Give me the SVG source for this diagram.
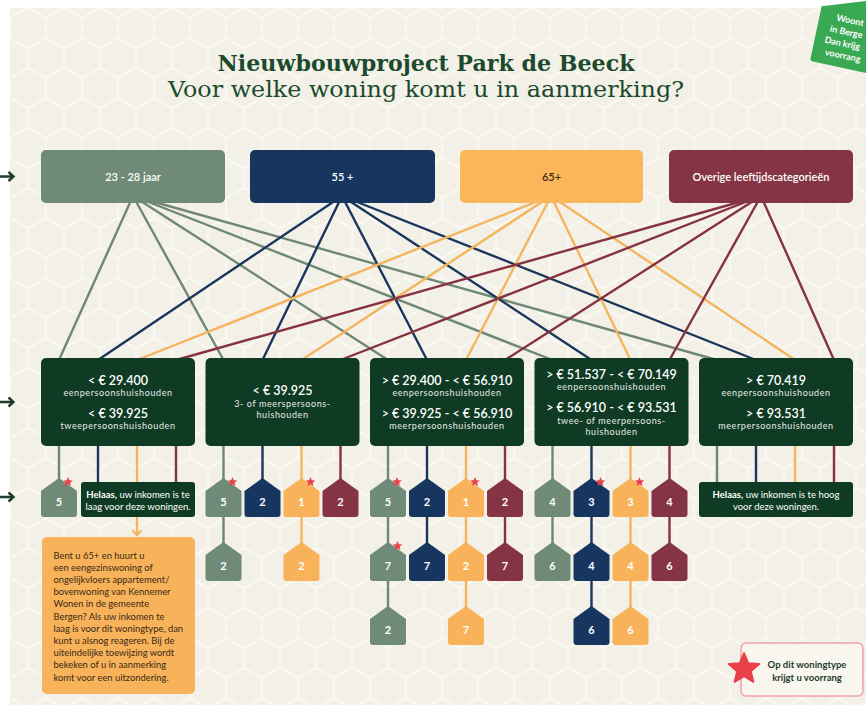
<svg xmlns="http://www.w3.org/2000/svg" xmlns:xlink="http://www.w3.org/1999/xlink" width="866" height="705" viewBox="0 0 866 705">
<style>
.title{font-family:"DejaVu Serif","Liberation Serif",serif;fill:#1b4a2c}
.cat{font-family:Lato,"Noto Sans",sans-serif;font-size:11px;font-weight:600;fill:#ffffff;text-anchor:middle}
.amt{font-family:Lato,"Noto Sans",sans-serif;font-size:12.5px;font-weight:600;fill:#ffffff;text-anchor:middle}
.sub{font-family:Lato,"Noto Sans",sans-serif;font-size:9px;letter-spacing:0.6px;fill:#e6ece6;text-anchor:middle}
.num{font-family:Lato,"Noto Sans",sans-serif;font-size:11px;font-weight:bold;fill:#ffffff;text-anchor:middle}
.hel{font-family:Lato,"Noto Sans",sans-serif;font-size:9.5px;fill:#ffffff;text-anchor:middle}
.note{font-family:Lato,"Noto Sans",sans-serif;font-size:9.4px;fill:#3a2a18}
.leg{font-family:Lato,"Noto Sans",sans-serif;font-size:9.5px;font-weight:bold;fill:#1e3b2b;text-anchor:middle}
.tag{font-family:Lato,"Noto Sans",sans-serif;font-size:9px;font-weight:bold;fill:#ffffff}
.cg{stroke:#6f8773}
.cn{stroke:#1b365d}
.co{stroke:#f5b45e}
.cm{stroke:#86323f}
#connectors path{fill:none;stroke-width:2.4}
.g{fill:#6f8a76}.n{fill:#17365f}.o{fill:#f8b35a}.m{fill:#843442}
.ibox{fill:#0f3b25}
.star{fill:#e8414a}
</style>
<defs>
<pattern id="hex" width="36" height="60" patternUnits="userSpaceOnUse" x="10" y="8">
<path d="M0,10 L18,0 L36,10 M36,10 V30 M0,10 V30 M0,30 L18,40 L36,30 M18,40 V60" fill="none" stroke="#faf9f4" stroke-width="1.6"/>
</pattern>
<path id="house" d="M0,0 L18,13 V36 Q18,39 15,39 H-15 Q-18,39 -18,36 V13 Z"/>
<path id="star" d="M0,-1 L0.2645,-0.364 L0.951,-0.309 L0.428,0.139 L0.588,0.809 L0,0.45 L-0.588,0.809 L-0.428,0.139 L-0.951,-0.309 L-0.2645,-0.364 Z"/>
</defs>

<rect x="0" y="0" width="866" height="705" fill="#ffffff"/>
<rect x="10" y="8" width="856" height="697" fill="#f3f1e7"/>
<rect x="10" y="8" width="856" height="697" fill="url(#hex)"/>

<g id="tag" transform="translate(810,61) rotate(12)">
<path d="M0,-3 Q0,0 3,0 H95 V-56 L47,-72 L0,-56 Z" fill="#3aa954"/>
<text class="tag" x="17" y="-45">Woont</text>
<text class="tag" x="13" y="-33">in Berge</text>
<text class="tag" x="10" y="-21">Dan krijg</text>
<text class="tag" x="13" y="-9">voorrang</text>
</g>

<g id="title">
<text class="title" x="426" y="71" font-size="22" font-weight="bold" text-anchor="middle" textLength="417" lengthAdjust="spacingAndGlyphs">Nieuwbouwproject Park de Beeck</text>
<text class="title" x="426" y="97" font-size="23" text-anchor="middle" textLength="516" lengthAdjust="spacingAndGlyphs">Voor welke woning komt u in aanmerking?</text>
</g>

<g id="connectors">
<path d="M0,176.5 H13 M8.5,172 L13.5,176.5 L8.5,181" stroke="#1d3d2a"/>
<path d="M0,402 H13 M8.5,397.5 L13.5,402 L8.5,406.5" stroke="#1d3d2a"/>
<path d="M0,497 H13 M8.5,492.5 L13.5,497 L8.5,501.5" stroke="#1d3d2a"/>
<path class="cg" d="M133,196 L59,360 M133,196 L223.5,360 M133,196 L388,360 M133,196 L552.5,360 M133,196 L717,360"/>
<path class="cn" d="M342,196 L98,360 M342,196 L262.5,360 M342,196 L427,360 M342,196 L591.5,360 M342,196 L756,360"/>
<path class="co" d="M551,196 L137,360 M551,196 L301.5,360 M551,196 L466,360 M551,196 L630.5,360 M551,196 L795,360"/>
<path class="cm" d="M761,196 L176,360 M761,196 L340.5,360 M761,196 L505,360 M761,196 L669.5,360 M761,196 L834,360"/>
<path class="cg" d="M59,446 V480 M223.5,446 V480 M388,446 V480 M552.5,446 V480 M717,446 V483"/>
<path class="cn" d="M98,446 V483 M262.5,446 V480 M427,446 V480 M591.5,446 V480 M756,446 V483"/>
<path class="co" d="M137,446 V483 M301.5,446 V480 M466,446 V480 M630.5,446 V480 M795,446 V483"/>
<path class="cm" d="M176,446 V483 M340.5,446 V480 M505,446 V480 M669.5,446 V480 M834,446 V483"/>
<path class="cg" d="M223.5,516 V544 M388,516 V608 M552.5,516 V544"/>
<path class="cn" d="M427,516 V544 M591.5,516 V608"/>
<path class="co" d="M301.5,516 V544 M466,516 V608 M630.5,516 V608"/>
<path class="cm" d="M505,516 V544 M669.5,516 V544"/>
<path class="co" d="M137,517 V535 M132.5,530.5 L137,535 L141.5,530.5" stroke-width="2"/>
</g>

<g id="cat-23-28"><rect x="41" y="150" width="184" height="53" rx="5" class="g"/><text class="cat" x="133" y="180.5">23 - 28 jaar</text></g>
<g id="cat-55"><rect x="250" y="150" width="185" height="53" rx="5" class="n"/><text class="cat" x="342.5" y="180.5">55 +</text></g>
<g id="cat-65"><rect x="460" y="150" width="183" height="53" rx="5" fill="#fbb55b"/><text class="cat" x="551.5" y="180.5" style="fill:#3b2a17">65+</text></g>
<g id="cat-overig"><rect x="669" y="150" width="184" height="53" rx="5" class="m"/><text class="cat" x="761" y="180.5">Overige leeftijdscategorieën</text></g>

<g id="inc-a"><rect x="41" y="358" width="154" height="88" rx="5" class="ibox"/>
<text class="amt" x="118" y="385">&lt; € 29.400</text>
<text class="sub" x="118" y="396">eenpersoonshuishouden</text>
<text class="amt" x="118" y="417.5">&lt; € 39.925</text>
<text class="sub" x="118" y="429">tweepersoonshuishouden</text></g>
<g id="inc-b"><rect x="205.5" y="358" width="154" height="88" rx="5" class="ibox"/>
<text class="amt" x="282.5" y="395">&lt; € 39.925</text>
<text class="sub" x="282.5" y="406.5">3- of meerspersoons-</text>
<text class="sub" x="282.5" y="418">huishouden</text></g>
<g id="inc-c"><rect x="370" y="358" width="154" height="88" rx="5" class="ibox"/>
<text class="amt" x="447" y="385">&gt; € 29.400 - &lt; € 56.910</text>
<text class="sub" x="447" y="396">eenpersoonshuishouden</text>
<text class="amt" x="447" y="417.5">&gt; € 39.925 - &lt; € 56.910</text>
<text class="sub" x="447" y="429">meerpersoonshuishouden</text></g>
<g id="inc-d"><rect x="534.5" y="358" width="154" height="88" rx="5" class="ibox"/>
<text class="amt" x="611.5" y="378.5">&gt; € 51.537 - &lt; € 70.149</text>
<text class="sub" x="611.5" y="390">eenpersoonshuishouden</text>
<text class="amt" x="611.5" y="411.5">&gt; € 56.910 - &lt; € 93.531</text>
<text class="sub" x="611.5" y="424">twee- of meerpersoons-</text>
<text class="sub" x="611.5" y="434.5">huishouden</text></g>
<g id="inc-e"><rect x="699" y="358" width="154" height="88" rx="5" class="ibox"/>
<text class="amt" x="776" y="385">&gt; € 70.419</text>
<text class="sub" x="776" y="396">eenpersoonshuishouden</text>
<text class="amt" x="776" y="417.5">&gt; € 93.531</text>
<text class="sub" x="776" y="429">meerpersoonshuishouden</text></g>

<g id="helaas-laag"><rect x="81" y="482" width="114" height="35" rx="3" class="ibox"/>
<text class="hel" x="138" y="497.5"><tspan font-weight="bold">Helaas,</tspan> uw inkomen is te</text>
<text class="hel" x="138" y="509.5">laag voor deze woningen.</text></g>
<g id="helaas-hoog"><rect x="699" y="482" width="154" height="35" rx="3" class="ibox"/>
<text class="hel" x="776" y="497.5"><tspan font-weight="bold">Helaas,</tspan> uw inkomen is te hoog</text>
<text class="hel" x="776" y="509.5">voor deze woningen.</text></g>

<g id="note"><rect x="42" y="537" width="153" height="157" rx="5" fill="#f8b25a"/>
<text class="note" x="53.5" y="558.5">Bent u 65+ en huurt u</text>
<text class="note" x="53.5" y="570.7">een eengezinswoning of</text>
<text class="note" x="53.5" y="582.9">ongelijkvloers appartement/</text>
<text class="note" x="53.5" y="595.1">bovenwoning van Kennemer</text>
<text class="note" x="53.5" y="607.3">Wonen in de gemeente</text>
<text class="note" x="53.5" y="619.5">Bergen? Als uw inkomen te</text>
<text class="note" x="53.5" y="631.7">laag is voor dit woningtype, dan</text>
<text class="note" x="53.5" y="643.9">kunt u alsnog reageren. Bij de</text>
<text class="note" x="53.5" y="656.1">uiteindelijke toewijzing wordt</text>
<text class="note" x="53.5" y="668.3">bekeken of u in aanmerking</text>
<text class="note" x="53.5" y="680.5">komt voor een uitzondering.</text></g>

<g id="h-a-g1"><use xlink:href="#house" x="59" y="478" class="g"/><text class="num" x="59" y="505.5">5</text><use xlink:href="#star" class="star" transform="translate(68,482) scale(5)"/></g>
<g id="h-b-g1"><use xlink:href="#house" x="223.5" y="478" class="g"/><text class="num" x="223.5" y="505.5">5</text><use xlink:href="#star" class="star" transform="translate(232.5,482) scale(5)"/></g>
<g id="h-b-n1"><use xlink:href="#house" x="262.5" y="478" class="n"/><text class="num" x="262.5" y="505.5">2</text></g>
<g id="h-b-o1"><use xlink:href="#house" x="301.5" y="478" class="o"/><text class="num" x="301.5" y="505.5">1</text><use xlink:href="#star" class="star" transform="translate(310.5,482) scale(5)"/></g>
<g id="h-b-m1"><use xlink:href="#house" x="340.5" y="478" class="m"/><text class="num" x="340.5" y="505.5">2</text></g>
<g id="h-c-g1"><use xlink:href="#house" x="388" y="478" class="g"/><text class="num" x="388" y="505.5">5</text><use xlink:href="#star" class="star" transform="translate(397,482) scale(5)"/></g>
<g id="h-c-n1"><use xlink:href="#house" x="427" y="478" class="n"/><text class="num" x="427" y="505.5">2</text></g>
<g id="h-c-o1"><use xlink:href="#house" x="466" y="478" class="o"/><text class="num" x="466" y="505.5">1</text><use xlink:href="#star" class="star" transform="translate(475,482) scale(5)"/></g>
<g id="h-c-m1"><use xlink:href="#house" x="505" y="478" class="m"/><text class="num" x="505" y="505.5">2</text></g>
<g id="h-d-g1"><use xlink:href="#house" x="552.5" y="478" class="g"/><text class="num" x="552.5" y="505.5">4</text></g>
<g id="h-d-n1"><use xlink:href="#house" x="591.5" y="478" class="n"/><text class="num" x="591.5" y="505.5">3</text><use xlink:href="#star" class="star" transform="translate(600.5,482) scale(5)"/></g>
<g id="h-d-o1"><use xlink:href="#house" x="630.5" y="478" class="o"/><text class="num" x="630.5" y="505.5">3</text><use xlink:href="#star" class="star" transform="translate(639.5,482) scale(5)"/></g>
<g id="h-d-m1"><use xlink:href="#house" x="669.5" y="478" class="m"/><text class="num" x="669.5" y="505.5">4</text></g>
<g id="h-b-g2"><use xlink:href="#house" x="223.5" y="542" class="g"/><text class="num" x="223.5" y="569.5">2</text></g>
<g id="h-b-o2"><use xlink:href="#house" x="301.5" y="542" class="o"/><text class="num" x="301.5" y="569.5">2</text></g>
<g id="h-c-g2"><use xlink:href="#house" x="388" y="542" class="g"/><text class="num" x="388" y="569.5">7</text><use xlink:href="#star" class="star" transform="translate(397.5,546) scale(5)"/></g>
<g id="h-c-n2"><use xlink:href="#house" x="427" y="542" class="n"/><text class="num" x="427" y="569.5">7</text></g>
<g id="h-c-o2"><use xlink:href="#house" x="466" y="542" class="o"/><text class="num" x="466" y="569.5">2</text></g>
<g id="h-c-m2"><use xlink:href="#house" x="505" y="542" class="m"/><text class="num" x="505" y="569.5">7</text></g>
<g id="h-d-g2"><use xlink:href="#house" x="552.5" y="542" class="g"/><text class="num" x="552.5" y="569.5">6</text></g>
<g id="h-d-n2"><use xlink:href="#house" x="591.5" y="542" class="n"/><text class="num" x="591.5" y="569.5">4</text></g>
<g id="h-d-o2"><use xlink:href="#house" x="630.5" y="542" class="o"/><text class="num" x="630.5" y="569.5">4</text></g>
<g id="h-d-m2"><use xlink:href="#house" x="669.5" y="542" class="m"/><text class="num" x="669.5" y="569.5">6</text></g>
<g id="h-c-g3"><use xlink:href="#house" x="388" y="606" class="g"/><text class="num" x="388" y="633.5">2</text></g>
<g id="h-c-o3"><use xlink:href="#house" x="466" y="606" class="o"/><text class="num" x="466" y="633.5">7</text></g>
<g id="h-d-n3"><use xlink:href="#house" x="591.5" y="606" class="n"/><text class="num" x="591.5" y="633.5">6</text></g>
<g id="h-d-o3"><use xlink:href="#house" x="630.5" y="606" class="o"/><text class="num" x="630.5" y="633.5">6</text></g>

<g id="legend">
<rect x="741" y="643" width="122" height="53" rx="5" fill="#f8f6ef" stroke="#f0a3a3" stroke-width="1.5"/>
<use xlink:href="#star" class="star" transform="translate(744,669) scale(16)" stroke="#e8414a" stroke-width="0.12" stroke-linejoin="round"/>
<text class="leg" x="807" y="667.5">Op dit woningtype</text>
<text class="leg" x="807" y="680.5">krijgt u voorrang</text>
</g>
</svg>
